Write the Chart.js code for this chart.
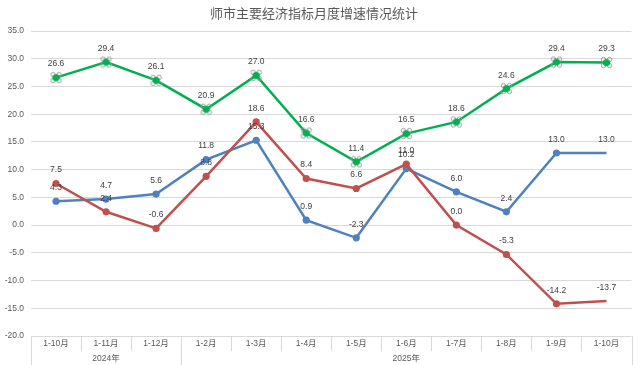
<!DOCTYPE html>
<html><head><meta charset="utf-8">
<script src="https://cdn.jsdelivr.net/npm/chart.js@4"></script>
<style>html,body{margin:0;padding:0;background:#fff}#wrap{width:640px;height:365px}</style>
</head><body><div id="wrap"><canvas id="c" width="640" height="365"></canvas></div>
<script>
const titleText = '师市主要经济指标月度增速情况统计';
const categories = ['1-10月','1-11月','1-12月','1-2月','1-3月','1-4月','1-5月','1-6月','1-7月','1-8月','1-9月','1-10月'];
const yearGroups = [{label:'2024年', count:3}, {label:'2025年', count:9}];
const blueValues = [4.3, 4.7, 5.6, 11.8, 15.3, 0.9, -2.3, 10.2, 6.0, 2.4, 13.0, 13.0];
const redValues = [7.5, 2.4, -0.6, 8.8, 18.6, 8.4, 6.6, 11.0, 0.0, -5.3, -14.2, -13.7];
const greenValues = [26.6, 29.4, 26.1, 20.9, 27.0, 16.6, 11.4, 16.5, 18.6, 24.6, 29.4, 29.3];
const yTicks = [-20, -15, -10, -5, 0, 5, 10, 15, 20, 25, 30, 35];

const FONT = '"Liberation Sans", "Noto Sans CJK SC", sans-serif';
const GRID = '#d9d9d9';

// custom green marker
const gm = document.createElement('canvas');
gm.width = 13; gm.height = 13;
(function(){
  const g = gm.getContext('2d');
  g.strokeStyle = '#9a9a9a'; g.lineWidth = 1;
  [[3.5,3.5],[9.5,3.5],[3.5,9.5],[9.5,9.5]].forEach(([x,y])=>{g.beginPath();g.arc(x,y,2.2,0,Math.PI*2);g.stroke();});
  g.fillStyle = '#00B050';
  g.beginPath(); g.arc(6.5,6.5,3.6,0,Math.PI*2); g.fill();
})();

const lastHidden = (ctx) => ctx.dataIndex === ctx.dataset.data.length - 1 ? 0 : 3.6;

const labelPlugin = {
  id: 'labels',
  afterDatasetsDraw(chart) {
    const c = chart.ctx;
    c.save();
    c.font = '8.5px ' + FONT;
    c.fillStyle = '#404040';
    c.textAlign = 'center';
    c.textBaseline = 'middle';
    chart.data.datasets.forEach((ds, di) => {
      const meta = chart.getDatasetMeta(di);
      meta.data.forEach((pt, i) => {
        c.fillText(ds.data[i].toFixed(1), pt.x, pt.y - 13.5);
      });
    });
    c.restore();
  }
};

const axisPlugin = {
  id: 'axisDeco',
  afterDraw(chart) {
    const c = chart.ctx;
    const xs = chart.scales.x;
    const area = chart.chartArea;
    const n = categories.length;
    const w = (area.right - area.left) / n;
    const bottom = area.bottom;
    c.save();
    c.strokeStyle = GRID; c.lineWidth = 1;
    const groupEdges = [0];
    let acc = 0;
    yearGroups.forEach(g => { acc += g.count; groupEdges.push(acc); });
    for (let i = 0; i <= n; i++) {
      const x = Math.round(xs.getPixelForValue(i) - w / 2) + 0.5;
      const full = groupEdges.includes(i);
      c.beginPath();
      c.moveTo(x, bottom);
      c.lineTo(x, full ? chart.height : bottom + 15);
      c.stroke();
    }
    c.font = '13px "Noto Sans CJK SC", sans-serif';
    c.fillStyle = '#595959';
    c.textAlign = 'center';
    c.textBaseline = 'middle';
    c.fillText(titleText, 314, 13);
    c.font = '8.5px ' + FONT;
    c.fillStyle = '#595959';
    let start = 0;
    yearGroups.forEach(g => {
      const x0 = xs.getPixelForValue(start) - w / 2;
      const x1 = xs.getPixelForValue(start + g.count - 1) + w / 2;
      c.fillText(g.label, (x0 + x1) / 2, bottom + 23);
      start += g.count;
    });
    c.restore();
  }
};

new Chart(document.getElementById('c'), {
  type: 'line',
  data: {
    labels: categories,
    datasets: [
      { label: 'green', data: greenValues, borderColor: '#00B050', borderWidth: 2.5,
        pointStyle: gm, pointRadius: 6, pointHoverRadius: 6, tension: 0 },
      { label: 'red', data: redValues, borderColor: '#C0504D', backgroundColor: '#C0504D', borderWidth: 2.5,
        pointStyle: 'circle', pointRadius: lastHidden, pointBorderWidth: 0, tension: 0 },
      { label: 'blue', data: blueValues, borderColor: '#4F81BD', backgroundColor: '#4F81BD', borderWidth: 2.5,
        pointStyle: 'circle', pointRadius: lastHidden, pointBorderWidth: 0, tension: 0 }
    ]
  },
  options: {
    responsive: false,
    animation: false,
    devicePixelRatio: 1,
    layout: { padding: { top: 31, right: 7, left: 0, bottom: 0 } },
    plugins: { legend: { display: false }, title: { display: false }, tooltip: { enabled: false } },
    scales: {
      x: {
        type: 'category',
        offset: true,
        grid: { display: false, drawTicks: false },
        border: { display: false },
        ticks: { color: '#595959', font: { size: 8.5, family: FONT }, padding: 3, maxRotation: 0, autoSkip: false },
        afterFit: s => { s.height = 29; }
      },
      y: {
        min: -20, max: 35,
        afterBuildTicks: s => { s.ticks = yTicks.map(v => ({ value: v })); },
        grid: { color: GRID, drawTicks: false, lineWidth: 1 },
        border: { display: false },
        ticks: { color: '#595959', font: { size: 8.5, family: FONT }, padding: 7, callback: v => Number(v).toFixed(1) },
        afterFit: s => { s.width = 31; }
      }
    }
  },
  plugins: [labelPlugin, axisPlugin]
});
</script>
</body></html>
